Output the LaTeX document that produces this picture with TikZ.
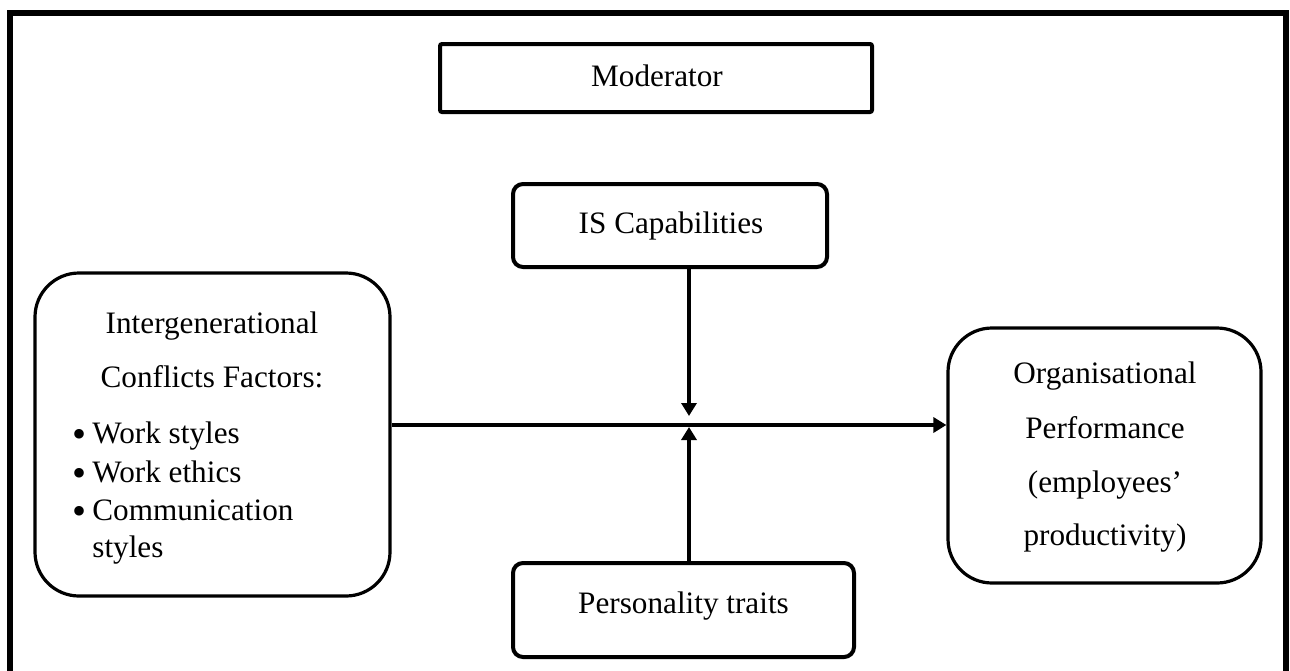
\documentclass[tikz,border=0pt]{standalone}
\usepackage{fontspec}
\setmainfont{Liberation Serif}
\usetikzlibrary{arrows.meta}
\begin{document}
\begin{tikzpicture}[x=0.5pt,y=-0.5pt,
  txt/.style={inner sep=0pt,font=\fontsize{15.6pt}{18pt}\selectfont},
  bul/.style={inner sep=0pt,font=\fontsize{20pt}{20pt}\selectfont},
  boxframe/.style={draw,line width=2pt,inner sep=0pt},
  roundframe/.style={draw,line width=1.6pt,inner sep=0pt,rounded corners=22pt},
  conn/.style={line width=2pt,-{Triangle[length=6.5pt,width=7.5pt]}}]
\useasboundingbox (0,0) rectangle (1290,670);
\clip (0,0) rectangle (1290,670);
% outer frame (open at the bottom of the picture)
\draw[line width=3pt] (10,720) -- (10,13) -- (1286,13) -- (1286,720);
% boxes
\node[boxframe,rounded corners=1pt,minimum width=216pt,minimum height=34pt] (mod) at (656,78) {};
\node[boxframe,rounded corners=5pt,minimum width=157pt,minimum height=41.5pt] (isc) at (670,225.5) {};
\node[boxframe,rounded corners=5pt,minimum width=170.5pt,minimum height=47pt] (pers) at (683.5,610) {};
\node[roundframe,minimum width=177.5pt,minimum height=161.5pt] (left) at (212.5,434.5) {};
\node[roundframe,minimum width=156.5pt,minimum height=127.5pt] (right) at (1104.5,455.5) {};
% texts
\node[txt,anchor=base] (modt) at (657,86) {Moderator};
\node[txt,anchor=base] (isct) at (671,233) {IS Capabilities};
\node[txt,anchor=base] (perst) at (683.5,613) {Personality traits};
\node[txt,anchor=base] (l1) at (212,333) {Intergenerational};
\node[txt,anchor=base] (l2) at (212,387) {Conflicts Factors:};
\node[bul,anchor=base] (b1) at (80,447) {•};
\node[txt,anchor=base west] (w1) at (92,443) {Work styles};
\node[bul,anchor=base] (b2) at (80,486) {•};
\node[txt,anchor=base west] (w2) at (92,482) {Work ethics};
\node[bul,anchor=base] (b3) at (80,524) {•};
\node[txt,anchor=base west] (w3) at (92,520) {Communication};
\node[txt,anchor=base west] (w4) at (92,557) {styles};
\node[txt,anchor=base] (r1) at (1105,383) {Organisational};
\node[txt,anchor=base] (r2) at (1105,438) {Performance};
\node[txt,anchor=base] (r3) at (1105,492) {(employees’};
\node[txt,anchor=base] (r4) at (1105,545) {productivity)};
% connectors
\coordinate (hub) at (689,425);
\coordinate (tipdown) at (689,416);
\coordinate (tipup) at (689,427);
\draw[conn] (left.east |- hub) -- (right.west |- hub);
\draw[conn] (isc.south -| hub) -- (tipdown);
\draw[conn] (pers.north -| hub) -- (tipup);
\end{tikzpicture}
\end{document}
